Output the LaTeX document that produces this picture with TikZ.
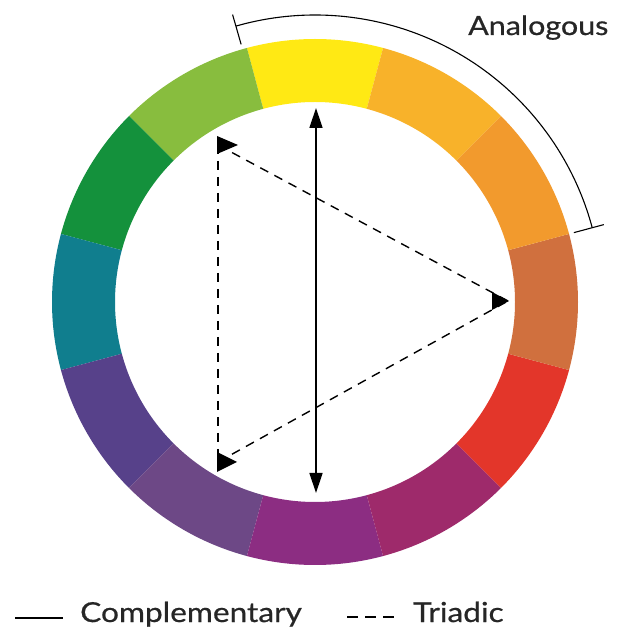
\documentclass[tikz,border=0pt]{standalone}
\usepackage{fontspec}
\setmainfont{Lato}[FakeStretch=1.15, FakeBold=0.6]
\usetikzlibrary{arrows.meta,calc}
\definecolor{cY}{HTML}{FFE914}
\definecolor{cYG}{HTML}{88BD3E}
\definecolor{cG}{HTML}{14913C}
\definecolor{cT}{HTML}{107E8E}
\definecolor{cBV}{HTML}{57418A}
\definecolor{cV}{HTML}{6D4886}
\definecolor{cP}{HTML}{8C2D82}
\definecolor{cM}{HTML}{9E2A6B}
\definecolor{cR}{HTML}{E3362A}
\definecolor{cRO}{HTML}{D0703E}
\definecolor{cO}{HTML}{F29A2D}
\definecolor{cYO}{HTML}{F8B22A}
\tikzset{
  triline/.style={line width=1.4pt, dash pattern=on 9pt off 7pt},
  compline/.style={line width=1.4pt},
  bracketline/.style={line width=1.1pt},
  label/.style={inner sep=0pt, anchor=base west, font=\fontsize{26.5}{30}\selectfont, text=black!85},
  legend/.style={inner sep=0pt, anchor=base west, font=\fontsize{27.5}{30}\selectfont, text=black!85},
  marker/.style={fill=black}
}
\begin{document}
\begin{tikzpicture}[x=1pt,y=1pt]
\useasboundingbox (0,0) rectangle (617,630);
\coordinate (C) at (315,328);
% colour wheel
\foreach \a/\col in {75/cY,105/cYG,135/cG,165/cT,195/cBV,225/cV,255/cP,285/cM,315/cR,345/cRO,15/cO,45/cYO}{
  \pgfmathsetmacro{\b}{\a+30}
  \fill[\col] ($(C)+(\a:263pt)$) arc[start angle=\a, end angle=\b, radius=263pt]
     -- ($(C)+(\b:200pt)$) arc[start angle=\b, end angle=\a, radius=200pt] -- cycle;
}
% analogous bracket
\coordinate (An1) at ($(C)+(106:287pt)$);
\coordinate (An1a) at ($(C)+(106:268pt)$);
\coordinate (An1b) at ($(C)+(106:299pt)$);
\coordinate (An2a) at ($(C)+(15:268pt)$);
\coordinate (An2b) at ($(C)+(15:299pt)$);
\draw[bracketline] (An1) arc[start angle=106, end angle=15, radius=287pt];
\draw[bracketline] (An1a) -- (An1b);
\draw[bracketline] (An2a) -- (An2b);
\node[label] (analog) at (468,595) {Analogous};
% triadic triangle
\coordinate (TA) at (218,485);
\coordinate (TB) at (508,329);
\coordinate (TC) at (218,168);
\draw[triline] (TA) -- (TB);
\draw[triline] (TC) -- (TB);
\draw[triline] (TA) -- (TC);
\fill[marker] ($(TA)+(-1,9)$) -- ($(TA)+(20,0)$) -- ($(TA)+(-1,-9)$) -- cycle;
\fill[marker] ($(TB)+(-16,9)$) -- ($(TB)+(1,0)$) -- ($(TB)+(-16,-9)$) -- cycle;
\fill[marker] ($(TC)+(-1,10)$) -- ($(TC)+(19,0)$) -- ($(TC)+(-1,-10)$) -- cycle;
% complementary arrow
\coordinate (CT) at (316,522);
\coordinate (CB) at (316,137);
\draw[compline, {Triangle[length=20pt,width=13pt]}-{Triangle[length=20pt,width=13pt]}] (CT) -- (CB);
% legend
\coordinate (L1a) at (15,12);
\coordinate (L1b) at (63,12);
\draw[compline, line width=1.2pt] (L1a) -- (L1b);
\node[legend] (comp) at (80,8) {Complementary};
\coordinate (L2a) at (347,13);
\coordinate (L2b) at (396,13);
\draw[line width=1.2pt, dash pattern=on 11pt off 7pt] (L2a) -- (L2b);
\node[legend] (tri) at (413,8) {Triadic};
\end{tikzpicture}
\end{document}
